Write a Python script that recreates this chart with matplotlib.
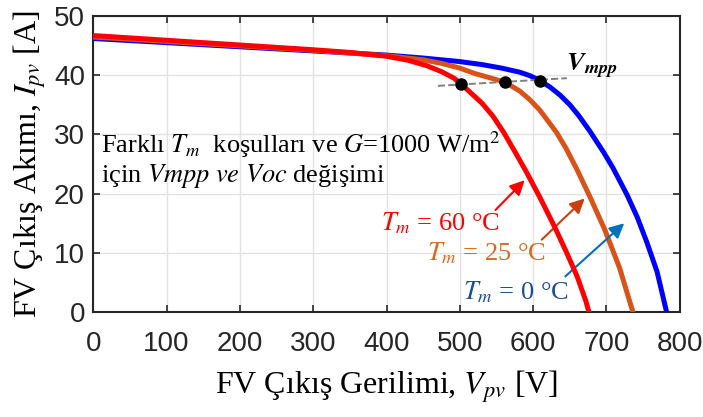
import matplotlib
matplotlib.use("Agg")
import matplotlib.pyplot as plt

plt.rcParams["mathtext.fontset"] = "stix"

# I-V curves (V in volts, I in amps)
v_60 = [0, 100, 200, 300, 350, 400, 430, 455, 475, 492, 502, 515, 530, 545,
        560, 575, 591, 609, 630, 645, 660, 672, 676]
i_60 = [46.7, 45.9, 45.1, 44.3, 43.85, 43.2, 42.5, 41.6, 40.6, 39.5, 38.5,
        37.0, 35.3, 33.1, 30.3, 27.1, 23.6, 19.4, 14.2, 10.2, 6.0, 1.8, 0]

v_25 = [0, 100, 200, 300, 400, 450, 475, 500, 520, 540, 562, 582, 596, 609,
        620, 632, 645, 660, 678, 698, 718, 736]
i_25 = [46.45, 45.7, 44.95, 44.2, 43.3, 42.6, 42.0, 41.2, 40.3, 39.6, 38.8,
        37.3, 35.8, 34.1, 32.3, 30.3, 27.6, 24.0, 19.3, 13.8, 7.4, 0]

v_0 = [0, 100, 200, 300, 400, 450, 500, 530, 557, 582, 596, 609, 623, 637,
       650, 662, 677, 696, 709, 728, 742, 755, 769, 782]
i_0 = [46.2, 45.5, 44.8, 44.1, 43.4, 42.9, 42.3, 41.8, 41.2, 40.5, 39.9,
       39.1, 38.0, 36.6, 35.0, 33.2, 30.6, 27.0, 24.3, 19.8, 16.0, 11.8, 6.8, 0]

# maximum power points
v_mpp = [502, 562, 609]
i_mpp = [38.5, 38.8, 39.1]
mpp_line_v = [470, 646]
mpp_line_i = [38.2, 39.5]

xticks = [0, 100, 200, 300, 400, 500, 600, 700, 800]
yticks = [0, 10, 20, 30, 40, 50]

fig = plt.figure(figsize=(7.03, 4.17), dpi=100)
ax = fig.add_axes([0.1327, 0.2518, 0.8343, 0.7098])

ax.plot(v_0, i_0, color="#0000FF", lw=3.6, zorder=3)
ax.plot(v_25, i_25, color="#D95319", lw=3.6, zorder=3)
ax.plot(v_60, i_60, color="#FF0000", lw=3.6, zorder=4)

ax.plot(mpp_line_v, mpp_line_i, color="#808080", ls="--", lw=1.4, zorder=5)
ax.plot(v_mpp, i_mpp, "o", color="k", ms=8, zorder=6)

ax.set_xlim(0, 800)
ax.set_ylim(0, 50)
ax.set_xticks(xticks)
ax.set_yticks(yticks)
ax.grid(True, color="#E3E3E3", lw=1)
ax.set_axisbelow(True)
ax.tick_params(direction="in", length=5, width=1.2, top=True, right=True,
               colors="#262626", labelsize=20)
ax.tick_params(axis="x", pad=14)
ax.tick_params(axis="y", pad=6)
for lab in ax.get_xticklabels() + ax.get_yticklabels():
    lab.set_family("Liberation Sans")
for sp in ax.spines.values():
    sp.set_color("#262626")
    sp.set_linewidth(1.5)

ax.set_xlabel(r"FV Çıkış Gerilimi, $V_{pv}$ [V]", family="Liberation Serif",
              fontsize=23, labelpad=8)
ax.set_ylabel(r"FV Çıkış Akımı, $I_{pv}$ [A]", family="Liberation Serif",
              fontsize=23, labelpad=4)

ax.text(11, 26.9, r"Farklı $T_m$  koşulları ve $G$=1000 W/m$^2$",
        family="Liberation Serif", fontsize=19, va="baseline")
ax.text(11, 22.0, r"için $Vmpp\ ve\ Voc$ değişimi",
        family="Liberation Serif", fontsize=19, va="baseline")

ax.text(645, 40.6, r"$\mathbfit{V}_{\mathbfit{mpp}}$", fontsize=19,
        va="baseline")

ax.text(393, 15.0, r"$T_m$ = 60 °C", color="#FF0000", fontsize=19,
        family="Liberation Serif", va="center")
ax.text(455, 10.0, r"$T_m$ = 25 °C", color="#D9691E", fontsize=19,
        family="Liberation Serif", va="center")
ax.text(504, 3.4, r"$T_m$ = 0 °C", color="#1F4E8C", fontsize=19,
        family="Liberation Serif", va="center")

ax.annotate("", xy=(591, 22.6), xytext=(546, 16.9),
            arrowprops=dict(arrowstyle="-|>", color="#FF0000", lw=1.5,
                            mutation_scale=22))
ax.annotate("", xy=(673, 19.5), xytext=(609, 11.9),
            arrowprops=dict(arrowstyle="-|>", color="#C8400F", lw=1.5,
                            mutation_scale=22))
ax.annotate("", xy=(727, 15.3), xytext=(641, 5.7),
            arrowprops=dict(arrowstyle="-|>", color="#0072BD", lw=1.5,
                            mutation_scale=22))

fig.savefig("out.png", dpi=100)
